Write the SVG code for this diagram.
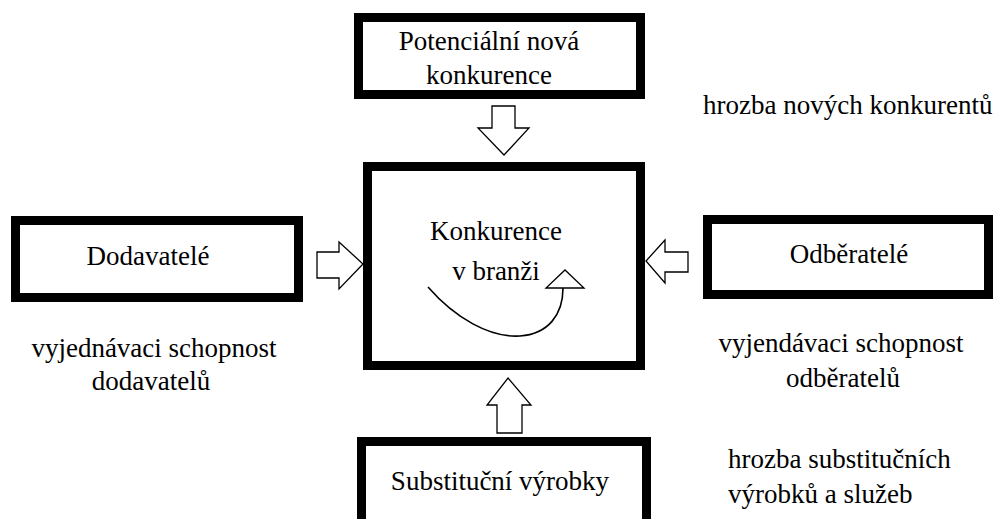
<svg xmlns="http://www.w3.org/2000/svg" width="998" height="519" viewBox="0 0 998 519">
  <style>
    .box { fill: #fff; stroke: #000; stroke-width: 9; }
    .arrow { fill: #fff; stroke: #000; stroke-width: 1.3; stroke-linejoin: miter; }
    .curve { fill: none; stroke: #000; stroke-width: 1.6; }
    text { font-family: "Times New Roman", Tinos, "Liberation Serif", "DejaVu Serif", "Noto Serif", "FreeSerif", Times, serif; font-size: 27px; fill: #000; }
    .c { text-anchor: middle; }
  </style>
  <rect width="998" height="519" fill="#fff"/>

  <!-- five forces boxes -->
  <g id="new-entrants">
    <rect class="box" x="358.5" y="17.5" width="282" height="77"/>
    <text class="c" x="489" y="50">Potenciální nová</text>
    <text class="c" x="489" y="84">konkurence</text>
  </g>

  <g id="rivalry">
    <rect class="box" x="367.5" y="166.5" width="273" height="199"/>
    <text class="c" x="496" y="240">Konkurence</text>
    <text class="c" x="496" y="280">v branži</text>
    <path class="curve" d="M428,287 C455,318 490,338 520,336 C548,334 563,315 563,288"/>
    <polygon class="arrow" points="546,288 584,288 565,270"/>
  </g>

  <g id="suppliers">
    <rect class="box" x="15.5" y="220.5" width="283" height="77"/>
    <text class="c" x="148" y="265">Dodavatelé</text>
  </g>

  <g id="buyers">
    <rect class="box" x="707.5" y="219.5" width="281" height="75"/>
    <text class="c" x="849" y="263">Odběratelé</text>
  </g>

  <g id="substitutes">
    <rect class="box" x="361.5" y="441.5" width="285" height="85"/>
    <text class="c" x="500" y="490">Substituční výrobky</text>
  </g>

  <!-- block arrows pointing at the central box -->
  <g id="connectors">
    <polygon class="arrow" points="492,106 515,106 515,128 529,128 504,155 478,128 492,128"/>
    <polygon class="arrow" points="317,252 339,252 339,242 363,264 339,289 339,278 317,278"/>
    <polygon class="arrow" points="688,252 665,252 665,240 646,261 665,283 665,272 688,272"/>
    <polygon class="arrow" points="497,433 522,433 522,405 531,405 508,378 487,405 497,405"/>
  </g>

  <!-- force descriptions -->
  <g id="labels">
    <text x="703" y="114">hrozba nových konkurentů</text>
    <text class="c" x="154" y="357">vyjednávaci schopnost</text>
    <text class="c" x="151" y="390">dodavatelů</text>
    <text class="c" x="841" y="352">vyjendávaci schopnost</text>
    <text class="c" x="843" y="387">odběratelů</text>
    <text x="728" y="468">hrozba substitučních</text>
    <text x="728" y="503">výrobků a služeb</text>
  </g>
</svg>
